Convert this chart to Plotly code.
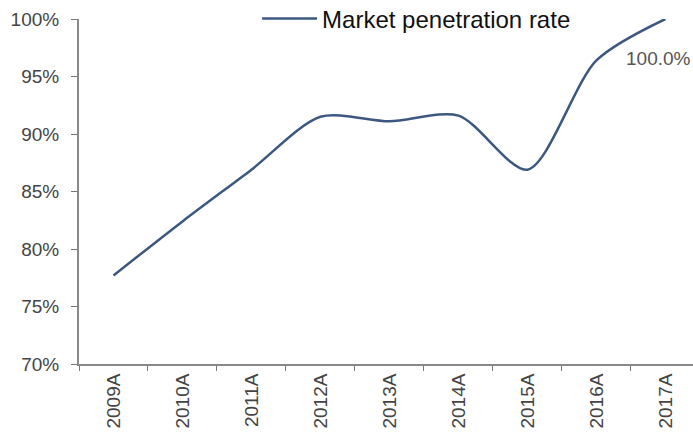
import plotly.graph_objects as go

categories = ["2009A", "2010A", "2011A", "2012A", "2013A", "2014A", "2015A", "2016A", "2017A"]
penetration = [77.7, 82.4, 86.9, 91.5, 91.1, 91.6, 86.9, 96.4, 100.0]
y_ticks = [70, 75, 80, 85, 90, 95, 100]
y_tick_labels = ["70%", "75%", "80%", "85%", "90%", "95%", "100%"]
series_name = "Market penetration rate"
end_label = "100.0%"

fig = go.Figure()
fig.add_trace(go.Scatter(
    x=categories, y=penetration, mode="lines", name=series_name,
    line=dict(color="#3d5880", width=2.5, shape="spline", smoothing=0.8),
))
fig.add_annotation(x=categories[-1], y=penetration[-1], text=end_label, showarrow=False,
                   xanchor="center", yanchor="middle", yshift=-39, xshift=-7,
                   font=dict(size=19, color="#555555"))

fig.update_layout(
    width=693, height=437,
    margin=dict(l=79, r=0, t=19, b=73, autoexpand=False),
    paper_bgcolor="white", plot_bgcolor="white",
    font=dict(family="Liberation Sans, Arial, sans-serif", color="#444444"),
    showlegend=True,
    legend=dict(xref="container", yref="container", x=0.371, y=0.9565,
                xanchor="left", yanchor="middle", orientation="h",
                font=dict(size=24, color="#111111"), bgcolor="rgba(0,0,0,0)",
                itemwidth=55),
    xaxis=dict(
        type="category", range=[-0.5, 8.4], tickangle=-90, ticks="outside", ticklen=5,
        tickson="boundaries", automargin=False,
        tickcolor="#777777", showline=True, linecolor="#888888", linewidth=2,
        showgrid=False, zeroline=False, tickfont=dict(size=19, color="#444444"),
    ),
    yaxis=dict(
        range=[70, 100], tickmode="array", tickvals=y_ticks, ticktext=y_tick_labels,
        ticks="outside", ticklen=6, tickcolor="#777777", showline=True, automargin=False,
        linecolor="#888888", linewidth=2, showgrid=False, zeroline=False,
        tickfont=dict(size=19, color="#444444"), ticklabelstandoff=8,
    ),
)
fig.write_html("out.html")
